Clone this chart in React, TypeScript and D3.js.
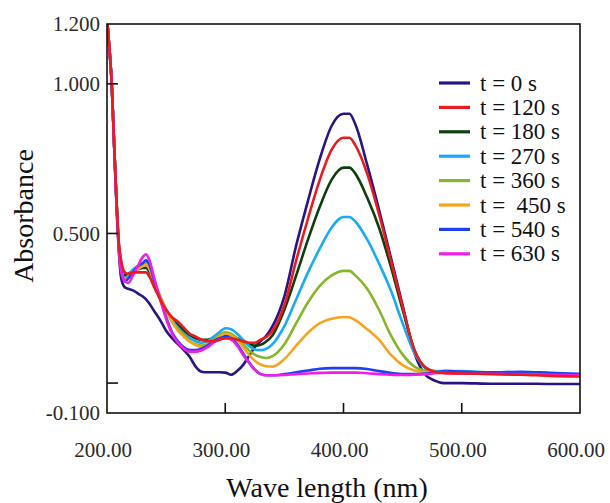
import React from 'react';
import * as d3 from 'd3';

const wavelengths = [200, 202, 204, 206, 208, 210, 212, 215, 218, 222, 226, 230, 233, 236, 240, 245, 250, 255, 260, 265, 270, 275, 280, 285, 290, 295, 300, 305, 310, 315, 320, 325, 330, 335, 340, 350, 360, 370, 380, 390, 400, 405, 410, 420, 430, 440, 450, 460, 470, 475, 480, 485, 490, 500, 525, 550, 575, 600];

const t0 = [1.22, 1.12, 1.0, 0.8, 0.6, 0.44, 0.35, 0.32, 0.315, 0.31, 0.3, 0.29, 0.28, 0.265, 0.24, 0.21, 0.175, 0.15, 0.13, 0.11, 0.087, 0.055, 0.038, 0.036, 0.036, 0.036, 0.035, 0.028, 0.04, 0.06, 0.09, 0.12, 0.14, 0.16, 0.19, 0.29, 0.46, 0.61, 0.75, 0.86, 0.9, 0.9, 0.865, 0.73, 0.58, 0.42, 0.26, 0.1, 0.025, 0.012, 0.004, 0.0, 0.0, 0.0, -0.002, -0.002, -0.003, -0.003];
const t120 = [1.22, 1.12, 1.0, 0.8, 0.62, 0.47, 0.41, 0.37, 0.365, 0.37, 0.37, 0.37, 0.37, 0.355, 0.32, 0.28, 0.245, 0.22, 0.205, 0.185, 0.165, 0.155, 0.145, 0.14, 0.14, 0.145, 0.15, 0.15, 0.145, 0.14, 0.135, 0.135, 0.145, 0.155, 0.175, 0.26, 0.41, 0.55, 0.68, 0.78, 0.82, 0.82, 0.795, 0.7, 0.565, 0.41, 0.255, 0.11, 0.05, 0.04, 0.036, 0.034, 0.033, 0.032, 0.03, 0.028, 0.024, 0.022];
const t180 = [1.22, 1.12, 1.0, 0.8, 0.61, 0.46, 0.4, 0.36, 0.365, 0.375, 0.38, 0.385, 0.385, 0.37, 0.33, 0.285, 0.245, 0.215, 0.195, 0.175, 0.16, 0.15, 0.145, 0.145, 0.15, 0.155, 0.16, 0.16, 0.15, 0.14, 0.13, 0.125, 0.128, 0.14, 0.16, 0.245, 0.36, 0.48, 0.59, 0.68, 0.72, 0.72, 0.7, 0.62, 0.52, 0.39, 0.245, 0.11, 0.048, 0.04, 0.037, 0.035, 0.034, 0.033, 0.031, 0.029, 0.027, 0.025];
const t270 = [1.22, 1.12, 1.0, 0.8, 0.61, 0.46, 0.39, 0.35, 0.36, 0.38, 0.39, 0.4, 0.405, 0.39, 0.34, 0.29, 0.245, 0.21, 0.185, 0.165, 0.15, 0.14, 0.135, 0.14, 0.155, 0.17, 0.183, 0.18, 0.165, 0.145, 0.125, 0.112, 0.11, 0.115, 0.13, 0.19, 0.28, 0.37, 0.45, 0.52, 0.555, 0.555, 0.54, 0.48, 0.4, 0.31, 0.2, 0.1, 0.05, 0.042, 0.04, 0.04, 0.04, 0.04, 0.036, 0.035, 0.032, 0.03];
const t360 = [1.22, 1.12, 1.0, 0.8, 0.61, 0.46, 0.39, 0.345, 0.355, 0.37, 0.385, 0.395, 0.4, 0.385, 0.335, 0.285, 0.24, 0.205, 0.18, 0.16, 0.14, 0.13, 0.125, 0.13, 0.145, 0.16, 0.17, 0.165, 0.15, 0.13, 0.11, 0.095, 0.087, 0.084, 0.09, 0.13, 0.2, 0.27, 0.325, 0.36, 0.375, 0.375, 0.36, 0.315, 0.245, 0.16, 0.095, 0.055, 0.04, 0.037, 0.035, 0.035, 0.034, 0.033, 0.032, 0.03, 0.028, 0.026];
const t450 = [1.22, 1.12, 1.0, 0.8, 0.61, 0.46, 0.39, 0.345, 0.35, 0.365, 0.38, 0.39, 0.395, 0.38, 0.335, 0.29, 0.245, 0.205, 0.175, 0.155, 0.138, 0.127, 0.12, 0.125, 0.14, 0.155, 0.165, 0.16, 0.145, 0.12, 0.095, 0.075, 0.062, 0.056, 0.055, 0.08, 0.125, 0.168, 0.2, 0.215, 0.221, 0.22, 0.21, 0.18, 0.145, 0.095, 0.06, 0.042, 0.036, 0.035, 0.034, 0.034, 0.033, 0.033, 0.031, 0.03, 0.028, 0.026];
const t540 = [1.22, 1.12, 1.0, 0.8, 0.61, 0.46, 0.38, 0.34, 0.35, 0.37, 0.39, 0.4, 0.41, 0.395, 0.34, 0.28, 0.22, 0.17, 0.14, 0.12, 0.11, 0.11, 0.115, 0.125, 0.14, 0.15, 0.155, 0.15, 0.13, 0.1, 0.07, 0.045, 0.03, 0.026, 0.026, 0.03, 0.036, 0.042, 0.048, 0.05, 0.05, 0.05, 0.05, 0.047, 0.04, 0.034, 0.03, 0.03, 0.032, 0.034, 0.036, 0.04, 0.04, 0.038, 0.036, 0.038, 0.034, 0.03];
const t630 = [1.22, 1.12, 1.0, 0.8, 0.6, 0.45, 0.37, 0.34, 0.335, 0.36, 0.39, 0.42, 0.43, 0.41, 0.35, 0.28, 0.215, 0.165, 0.135, 0.115, 0.105, 0.105, 0.11, 0.12, 0.135, 0.145, 0.15, 0.145, 0.125, 0.095, 0.068, 0.045, 0.03, 0.026, 0.026, 0.027, 0.03, 0.032, 0.034, 0.035, 0.035, 0.035, 0.035, 0.033, 0.03, 0.028, 0.027, 0.028, 0.03, 0.032, 0.034, 0.034, 0.033, 0.032, 0.031, 0.03, 0.028, 0.026];

const seriesLabels = ['t = 0 s', 't = 120 s', 't = 180 s', 't = 270 s', 't = 360 s', 't =  450 s', 't = 540 s', 't = 630 s'];
const seriesValues = [t0, t120, t180, t270, t360, t450, t540, t630];
const seriesColors = ['#2a1482', '#ec1a1e', '#0d3f0d', '#1aaaf2', '#86b62a', '#f8a31c', '#1f40f0', '#f01ee8'];
// draw order (red on top)
const drawOrder = [0, 2, 3, 4, 5, 6, 7, 1];

const xTickValues = [200, 300, 400, 500, 600];
const yLabelValues = [1.2, 1.0, 0.5, -0.1];
const yTickMarks = [1.0, 0.5, 0.0];

const FONT = 'Liberation Serif, Times New Roman, DejaVu Serif, serif';
const fontStyle = { fontFamily: FONT } as React.CSSProperties;

export default function App() {
  const left = 107, right = 580, top = 24, bottom = 413;
  const x = d3.scaleLinear().domain([200, 600]).range([left, right]);
  const y = d3.scaleLinear().domain([-0.1, 1.2]).range([bottom, top]);
  const line = d3
    .line<number>()
    .x((_, i) => x(wavelengths[i]))
    .y((d) => y(d))
    .curve(d3.curveMonotoneX);

  return (
    <svg width={610} height={503} style={{ position: 'absolute', left: 0, top: 0, background: '#fff', fontFamily: FONT }}>
      <defs>
        <clipPath id="plotclip">
          <rect x={left} y={top} width={right - left} height={bottom - top} />
        </clipPath>
      </defs>
      <rect x={0} y={0} width={610} height={503} fill="#fff" />
      <g clipPath="url(#plotclip)">
        {drawOrder.map((k) => (
          <path
            key={k}
            d={line(seriesValues[k]) || ''}
            fill="none"
            stroke={seriesColors[k]}
            strokeWidth={2.6}
            strokeLinejoin="round"
          />
        ))}
      </g>
      <rect x={left} y={top} width={right - left} height={bottom - top} fill="none" stroke="#111" strokeWidth={1.6} />
      {yTickMarks.map((v) => (
        <line key={v} x1={left} x2={left + 11} y1={y(v)} y2={y(v)} stroke="#111" strokeWidth={1.6} />
      ))}
      {xTickValues.slice(1, -1).map((v) => (
        <line key={v} x1={x(v)} x2={x(v)} y1={bottom} y2={bottom - 10} stroke="#111" strokeWidth={1.6} />
      ))}
      {yLabelValues.map((v) => (
        <text key={v} x={100} y={y(v)} dy="0.34em" textAnchor="end" fontSize={21} fill="#2a2a2a" style={fontStyle}>
          {v.toFixed(3)}
        </text>
      ))}
      {xTickValues.map((v) => (
        <text key={v} x={x(v) - 4} y={457} textAnchor="middle" fontSize={21} fill="#2a2a2a" style={fontStyle}>
          {v.toFixed(2)}
        </text>
      ))}
      <text x={327} y={497} textAnchor="middle" fontSize={28} fill="#111" style={fontStyle}>
        Wave length (nm)
      </text>
      <text transform="translate(33,216) rotate(-90)" textAnchor="middle" fontSize={28} fill="#111" style={fontStyle}>
        Absorbance
      </text>
      {seriesLabels.map((lab, i) => {
        const ly = 83 + i * 24.4;
        return (
          <g key={lab}>
            <line x1={439} x2={470} y1={ly} y2={ly} stroke={seriesColors[i]} strokeWidth={3.2} />
            <text x={480} y={ly + 7.5} fontSize={23} fill="#111" style={{ ...fontStyle, whiteSpace: 'pre' }}>
              {lab}
            </text>
          </g>
        );
      })}
    </svg>
  );
}
